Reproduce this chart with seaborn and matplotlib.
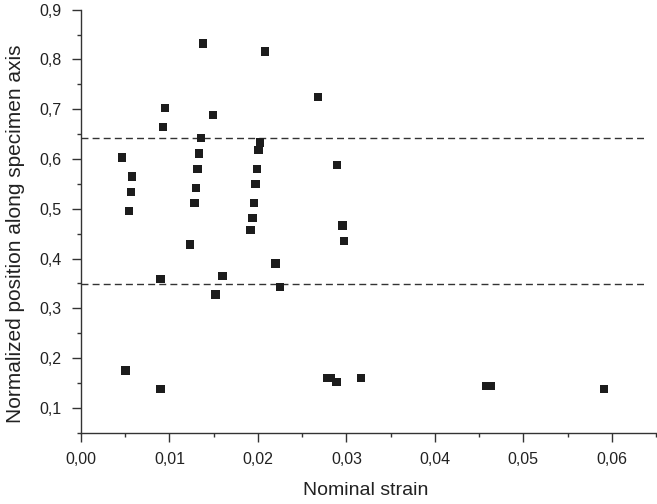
import matplotlib
matplotlib.use("Agg")
import matplotlib.pyplot as plt
from matplotlib.ticker import MultipleLocator, FuncFormatter
import pandas as pd
import seaborn as sns

# --- Données ---
strain = [
    0.00467, 0.00576, 0.00564, 0.00540, 0.00948, 0.00926,
    0.01377, 0.01494, 0.01354, 0.01335, 0.01317, 0.01302, 0.01283, 0.01234,
    0.02080, 0.02679, 0.02020, 0.02006, 0.01990, 0.01971, 0.01953, 0.01937, 0.01915,
    0.02897, 0.02957, 0.02976,
    0.00900, 0.01600, 0.01520, 0.02197, 0.02246,
    0.00504, 0.00900, 0.02784, 0.02822, 0.02890, 0.03168, 0.04579, 0.04635, 0.05914,
]
position = [
    0.603, 0.565, 0.534, 0.496, 0.702, 0.664,
    0.832, 0.688, 0.642, 0.611, 0.580, 0.542, 0.512, 0.428,
    0.816, 0.725, 0.633, 0.618, 0.580, 0.550, 0.511, 0.481, 0.457,
    0.588, 0.466, 0.435,
    0.359, 0.365, 0.328, 0.390, 0.343,
    0.175, 0.138, 0.160, 0.160, 0.152, 0.160, 0.144, 0.144, 0.138,
]
limit_lines = [0.643, 0.348]
line_end = 0.064

df = pd.DataFrame({"strain": strain, "position": position})

sns.set_theme(style="ticks")
plt.rcParams["font.family"] = ["Liberation Sans", "DejaVu Sans"]

fig = plt.figure(figsize=(6.57, 5.04), dpi=100)
ax = fig.add_axes([0.1233, 0.1415, 0.8752, 0.8393])

sns.scatterplot(data=df, x="strain", y="position", marker="s", s=36,
                color="#1c1c1c", edgecolor="none", linewidth=0, ax=ax, zorder=3)

ax.hlines(limit_lines, 0, line_end, colors="#333333", linestyles=(0, (5, 3)),
          linewidth=1.0, zorder=2)

ax.set_xlim(0, 0.065)
ax.set_ylim(0.05, 0.9)
ax.xaxis.set_major_locator(MultipleLocator(0.01))
ax.xaxis.set_minor_locator(MultipleLocator(0.005))
ax.yaxis.set_major_locator(MultipleLocator(0.1))
ax.yaxis.set_minor_locator(MultipleLocator(0.05))
ax.xaxis.set_major_formatter(FuncFormatter(lambda v, p: f"{v:.2f}".replace(".", ",")))
ax.yaxis.set_major_formatter(FuncFormatter(lambda v, p: f"{v:.1f}".replace(".", ",")))

ax.tick_params(which="major", direction="out", length=6.5, width=1.0,
               color="#333333", labelsize=11.5, labelcolor="#222222", pad=7.5)
ax.tick_params(which="minor", direction="out", length=3, width=1.0, color="#333333")

sns.despine(ax=ax)
for side in ["left", "bottom"]:
    ax.spines[side].set_color("#333333")
    ax.spines[side].set_linewidth(1.0)

ax.set_xlabel("Nominal strain", fontsize=14, color="#222222")
ax.set_ylabel("Normalized position along specimen axis", fontsize=15,
              color="#222222")
ax.xaxis.set_label_coords(0.4957, -0.117)
ax.yaxis.set_label_coords(-0.0974, 0.471)

fig.savefig("out.png", dpi=100)
